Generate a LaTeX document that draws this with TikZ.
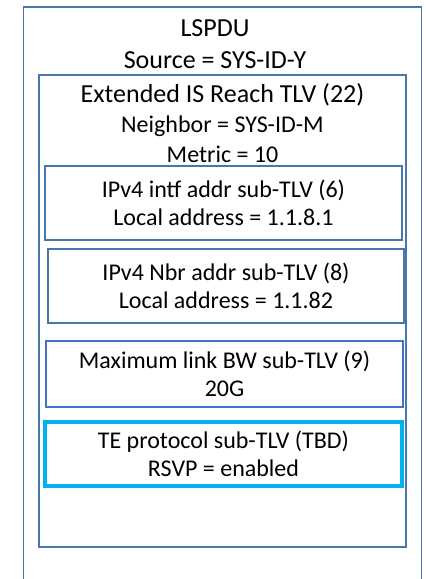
\documentclass[tikz,border=0pt]{standalone}
\usepackage{fontspec}
\setmainfont{Carlito}
\definecolor{frameblue}{HTML}{4877AC}
\definecolor{subblue}{HTML}{4472C4}
\definecolor{teblue}{HTML}{00B0F0}
\begin{document}
\begin{tikzpicture}[x=1pt,y=-1pt,
  big/.style={font=\fontsize{26}{30}\selectfont},
  small/.style={font=\fontsize{24}{28.5}\selectfont, align=center},
  frame/.style={draw=frameblue, line width=1.8pt},
  subbox/.style={frame, rectangle, inner sep=0pt, small},
]
\useasboundingbox (0,0) rectangle (426,579);
\fill[white] (0,0) rectangle (426,579);
\begin{scope}
\clip (0,0) rectangle (426,579);
% LSPDU container, open past the lower edge
\draw[frame] (23.5,7) rectangle (421.5,620);
\end{scope}
\node[big] (lspdu) at (215,28) {LSPDU};
\node[big] (src) at (215,60) {Source = SYS-ID-Y};
% Extended IS Reach TLV container
\draw[frame] (39,75) rectangle (406,547);
\node[big] (tlv) at (222.5,95) {Extended IS Reach TLV (22)};
\node[small] (nbr) at (222.5,126) {Neighbor = SYS-ID-M};
\node[small] (metric) at (222.5,154) {Metric = 10};
% sub-TLVs
\node[subbox, minimum width=357pt, minimum height=74pt] (intf) at (223.5,203)
  {IPv4 intf addr sub-TLV (6)\\Local address = 1.1.8.1};
\node[subbox, minimum width=356pt, minimum height=74pt] (nbraddr) at (226,286)
  {IPv4 Nbr addr sub-TLV (8)\\Local address = 1.1.82};
\node[subbox, draw=subblue, minimum width=357pt, minimum height=66pt] (bw) at (224.5,374)
  {Maximum link BW sub-TLV (9)\\20G};
\node[subbox, draw=teblue, line width=3.3pt, minimum width=357pt, minimum height=64pt] (te) at (223.5,454)
  {TE protocol sub-TLV (TBD)\\RSVP = enabled};
\end{tikzpicture}
\end{document}
